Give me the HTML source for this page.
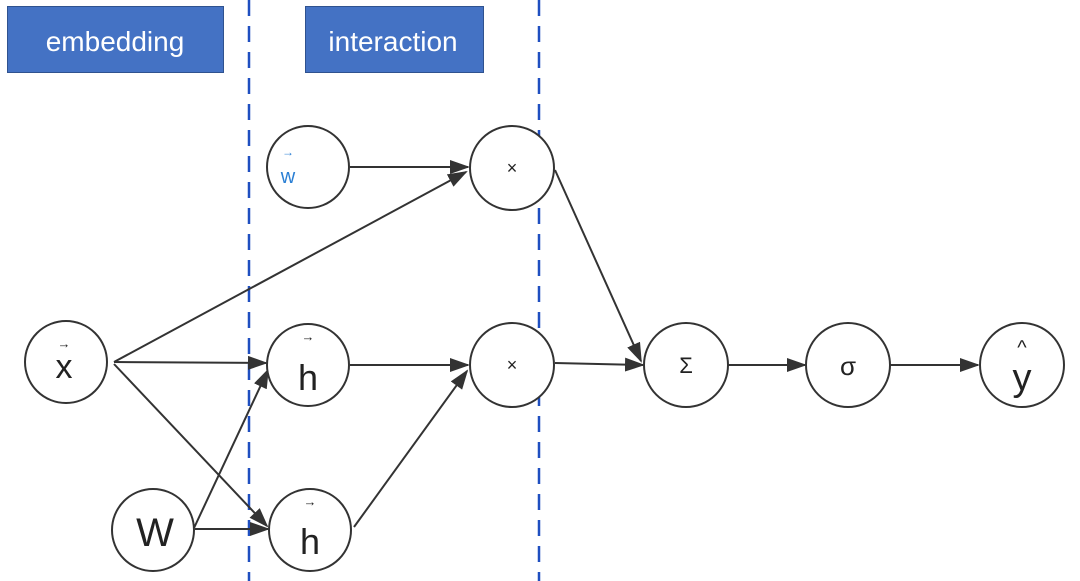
<!DOCTYPE html>
<html><head><meta charset="utf-8"><style>
body{margin:0;width:1080px;height:581px;background:#fff;overflow:hidden}
svg{display:block}
text{font-family:"Liberation Sans",sans-serif}
</style></head><body>
<svg width="1080" height="581" viewBox="0 0 1080 581">
<defs><marker id="a" markerWidth="10" markerHeight="8" refX="9" refY="4" orient="auto" markerUnits="userSpaceOnUse" viewBox="0 0 10 8"><path d="M0,0L10,4L0,8z" fill="#333"/></marker>
<marker id="b" markerWidth="20" markerHeight="14" refX="18" refY="7" orient="auto" markerUnits="userSpaceOnUse" viewBox="0 0 20 14"><path d="M0,0L20,7L0,14z" fill="#333"/></marker></defs>
<rect x="7.5" y="6.5" width="216" height="66" fill="#4472c4" stroke="#2f528f"/>
<text x="115" y="51" font-size="28" fill="#fff" text-anchor="middle">embedding</text>
<rect x="305.5" y="6.5" width="178" height="66" fill="#4472c4" stroke="#2f528f"/>
<text x="393" y="51" font-size="28" fill="#fff" text-anchor="middle">interaction</text>
<g stroke="#1f4fc0" stroke-width="2.5" stroke-dasharray="16,10"><line x1="249" y1="0" x2="249" y2="581"/><line x1="539" y1="0" x2="539" y2="581"/></g>
<g stroke="#333" stroke-width="2" fill="none" marker-end="url(#b)">
<line x1="350" y1="167" x2="468" y2="167"/>
<line x1="114" y1="362" x2="466" y2="172"/>
<line x1="114" y1="362" x2="266" y2="363"/>
<line x1="114" y1="364" x2="267" y2="526"/>
<line x1="194" y1="528" x2="268" y2="370"/>
<line x1="195" y1="529" x2="268" y2="529"/>
<line x1="350" y1="365" x2="468" y2="365"/>
<line x1="354" y1="527" x2="467" y2="371"/>
<line x1="555" y1="170" x2="641" y2="361"/>
<line x1="555" y1="363" x2="643" y2="365"/>
<line x1="728" y1="365" x2="805" y2="365"/>
<line x1="890" y1="365" x2="978" y2="365"/>
</g>
<g stroke="#333" stroke-width="2" fill="#fff">
<circle cx="308" cy="167" r="41"/><circle cx="512" cy="168" r="42"/>
<circle cx="66" cy="362" r="41"/><circle cx="308" cy="365" r="41"/><circle cx="512" cy="365" r="42"/>
<circle cx="310" cy="530" r="41"/><circle cx="153" cy="530" r="41"/>
<circle cx="686" cy="365" r="42"/><circle cx="848" cy="365" r="42"/><circle cx="1022" cy="365" r="42"/>
</g>
<g fill="#222" text-anchor="middle">
<text x="288" y="183" font-size="20" fill="#2a7fd4">w</text>
<text x="288" y="156" font-size="12" fill="#2a7fd4">→</text>
<text x="512" y="174" font-size="18">×</text>
<text x="512" y="371" font-size="18">×</text>
<text x="64" y="378" font-size="34">x</text><text x="64" y="348" font-size="13">→</text>
<text x="308" y="390" font-size="36">h</text><text x="308" y="341" font-size="13">→</text>
<text x="310" y="554" font-size="36">h</text><text x="310" y="506" font-size="13">→</text>
<text x="155" y="546" font-size="40">W</text>
<text x="686" y="373" font-size="22">Σ</text>
<text x="848" y="375" font-size="26">σ</text>
<text x="1022" y="390" font-size="38">y</text><text x="1022" y="354" font-size="20">^</text>
</g>
</svg>
</body></html>
